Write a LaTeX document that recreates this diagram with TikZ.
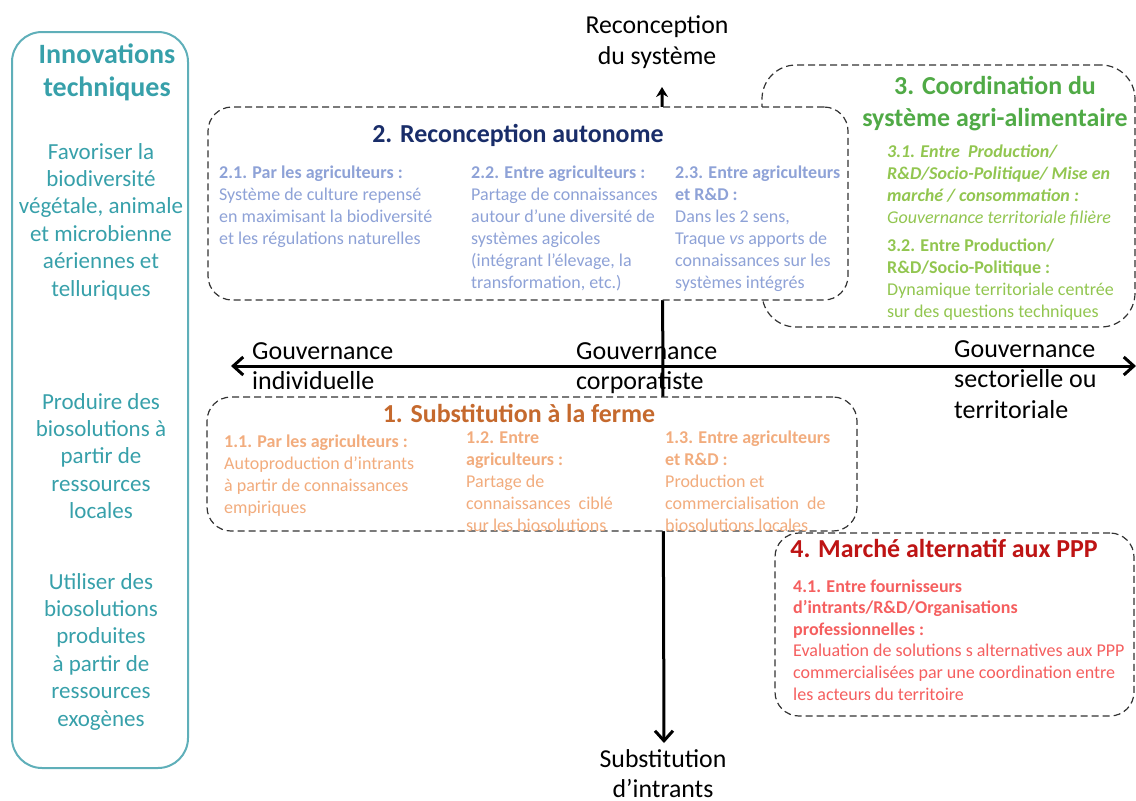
\documentclass[tikz,border=0pt]{standalone}
\usepackage{fontspec}
\setmainfont{Carlito}
\usetikzlibrary{arrows.meta}

\definecolor{tealline}{RGB}{95,175,185}
\definecolor{tealtext}{RGB}{55,160,170}
\definecolor{navy}{RGB}{25,45,105}
\definecolor{lavender}{RGB}{142,162,215}
\definecolor{leafgreen}{RGB}{80,170,70}
\definecolor{lightgreen}{RGB}{146,198,80}
\definecolor{rust}{RGB}{197,105,45}
\definecolor{peach}{RGB}{242,172,125}
\definecolor{darkred}{RGB}{190,20,20}
\definecolor{coral}{RGB}{245,95,95}

\tikzset{
  zone/.style={draw=black!80, line width=1.2pt, dash pattern=on 7pt off 4pt, fill=white, rounded corners=24pt},
  axisline/.style={line width=3pt},
  bigtext/.style={font=\fontsize{25.8}{31}\selectfont, align=center, inner sep=0pt, anchor=base},
  headtext/.style={font=\fontsize{25.9}{32}\selectfont\bfseries, align=center, inner sep=0pt, anchor=base},
  coltext/.style={font=\fontsize{18}{22}\selectfont, align=left, inner sep=0pt, anchor=base west},
  sidetext/.style={font=\fontsize{23}{27.4}\selectfont, align=center, inner sep=0pt, text=tealtext, anchor=base},
}

\begin{document}
\begin{tikzpicture}[x=1pt, y=-1pt]
  \useasboundingbox (0,0) rectangle (1136,801);

  \node[draw=tealline, line width=2pt, rounded corners=30pt, minimum width=176pt, minimum height=736pt] (panel) at (100,400) {};
  \node[headtext, font=\fontsize{28}{33}\selectfont\bfseries, text=tealtext] (inno) at (107,96) {Innovations\\techniques};
  \node[sidetext] (favo) at (101,296) {Favoriser la\\biodiversité\\végétale, animale\\et microbienne\\aériennes et\\telluriques};
  \node[sidetext] (prod) at (101,518.6) {Produire des\\biosolutions à\\partir de\\ressources\\locales};
  \node[sidetext] (util) at (101,726) {Utiliser des\\biosolutions\\produites\\à partir de\\ressources\\exogènes};

  \node[bigtext] (sys) at (657,64) {Reconception\\du système};
  \node[bigtext, font=\fontsize{25.8}{30}\selectfont] (intr) at (663,797) {Substitution\\d’intrants};
  \coordinate (top) at (662,87);
  \coordinate (bot) at (664,743);
  \draw[axisline, {Stealth[length=10pt,width=12pt]}-{Straight Barb[length=10pt,width=18pt]}] (top) -- (bot);

  \node[zone, rounded corners=34pt, minimum width=373pt, minimum height=262pt] (coord) at (948.5,196) {};
  \node[headtext, text=leafgreen] (coordt) at (995,126) {3. Coordination du\\système agri-alimentaire};
  \node[coltext, text=lightgreen] (c31) at (887,223) {\textbf{\textit{3.1. Entre~ Production/}}\\\textbf{\textit{R\&D/Socio-Politique/ Mise en}}\\\textbf{\textit{marché / consommation :}}\\\textit{Gouvernance territoriale filière}};
  \node[coltext, text=lightgreen] (c32) at (887,317) {\textbf{3.2. Entre Production/}\\\textbf{R\&D/Socio-Politique :}\\Dynamique territoriale centrée\\sur des questions techniques};

  \node[zone, minimum width=640pt, minimum height=193pt] (reco) at (528,203.5) {};
  \node[headtext, text=navy] (recot) at (518,142) {2. Reconception autonome};
  \node[coltext, text=lavender] (c21) at (219,244) {\textbf{2.1. Par les agriculteurs :}\\Système de culture repensé\\en maximisant la biodiversité\\et les régulations naturelles};
  \node[coltext, text=lavender] (c22) at (471,288) {\textbf{2.2. Entre agriculteurs :}\\Partage de connaissances\\autour d’une diversité de\\systèmes agicoles\\(intégrant l’élevage, la\\transformation, etc.)};
  \node[coltext, text=lavender] (c23) at (675,288) {\textbf{2.3. Entre agriculteurs}\\\textbf{et R\&D :}\\Dans les 2 sens,\\Traque \textit{vs} apports de\\connaissances sur les\\systèmes intégrés};

  \node[zone, minimum width=650pt, minimum height=134pt] (subst) at (532,464) {};
  \node[headtext, text=rust] (substt) at (519,422) {1. Substitution à la ferme};
  \node[coltext, text=peach] (c11) at (224,513) {\textbf{1.1. Par les agriculteurs :}\\Autoproduction d’intrants\\à partir de connaissances\\empiriques};
  \node[coltext, text=peach] (c12) at (466,531) {\textbf{1.2. Entre}\\\textbf{agriculteurs :}\\Partage de\\connaissances~ ciblé\\sur les biosolutions};
  \node[coltext, text=peach] (c13) at (665,531) {\textbf{1.3. Entre agriculteurs}\\\textbf{et R\&D :}\\Production et\\commercialisation~ de\\biosolutions locales};

  \node[zone, minimum width=359pt, minimum height=183pt] (marche) at (954.5,624.5) {};
  \node[headtext, text=darkred] (marchet) at (944,557) {4. Marché alternatif aux PPP};
  \node[coltext, font=\fontsize{18}{21.6}\selectfont, text=coral] (c41) at (793,700) {\textbf{4.1. Entre fournisseurs}\\\textbf{d’intrants/R\&D/Organisations}\\\textbf{professionnelles :}\\Evaluation de solutions s alternatives aux PPP\\commercialisées par une coordination entre\\les acteurs du territoire};

  \coordinate (west) at (231,366);
  \coordinate (east) at (1136,366);
  \draw[axisline, {Straight Barb[length=10pt,width=18pt]}-{Straight Barb[length=10pt,width=18pt]}] (west) -- (east);
  \node[bigtext, align=left, anchor=base west, font=\fontsize{26}{30}\selectfont] (indiv) at (252,389) {Gouvernance\\individuelle};
  \node[bigtext, align=left, anchor=base west, font=\fontsize{26}{30}\selectfont] (corpo) at (576,389) {Gouvernance\\corporatiste};
  \node[bigtext, align=left, anchor=base west, font=\fontsize{26}{30.5}\selectfont] (terri) at (954,418) {Gouvernance\\sectorielle ou\\territoriale};

\end{tikzpicture}
\end{document}
